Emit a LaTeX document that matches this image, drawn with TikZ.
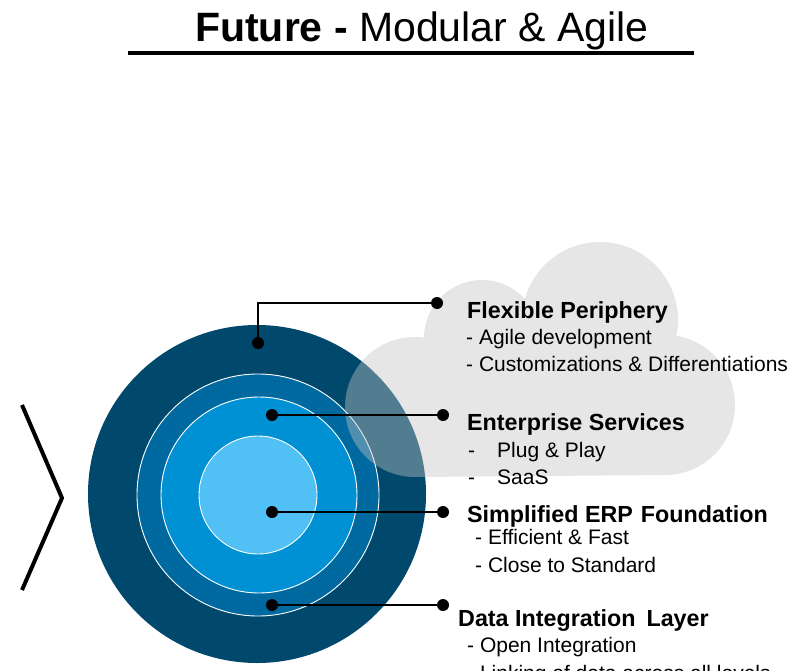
\documentclass[tikz,border=0pt]{standalone}
\usepackage{fontspec}
\setmainfont{Liberation Sans}
\definecolor{navy}{HTML}{00486C}
\definecolor{ringtwo}{HTML}{006AA0}
\definecolor{ringthree}{HTML}{0090D4}
\definecolor{core}{HTML}{50C0F5}
\definecolor{cloudgray}{HTML}{C4C4C4}
\begin{document}
\begin{tikzpicture}[x=1pt,y=-1pt,
  dotnode/.style={circle,fill=black,inner sep=0pt,minimum size=12pt},
  conn/.style={line width=2.2pt,black},
  head/.style={anchor=base west,inner sep=0pt,font=\fontsize{23.3}{27}\selectfont\bfseries},
  body/.style={anchor=base west,inner sep=0pt,font=\fontsize{21}{25}\selectfont},
  ring/.style={draw=white,line width=0.9pt}]
\useasboundingbox (0,0) rectangle (794,671);
\fill[white] (0,0) rectangle (794,671);
% title
\node[anchor=base west,inner sep=0pt,font=\fontsize{41}{48}\selectfont] (title) at (195,42) {\textbf{Future -} Modular \& Agile};
\draw[line width=4pt] (128,53) -- (694,53);
% chevron
\draw[line width=4pt,line join=miter] (22,405) -- (62,498) -- (22,590);
% rings
\fill[navy] (257,494) circle[radius=169pt];
\filldraw[ring,fill=ringtwo] (258,495) circle[radius=121pt];
\filldraw[ring,fill=ringthree] (259,495) circle[radius=98pt];
\filldraw[ring,fill=core] (258,495) circle[radius=59pt];
% cloud
\fill[cloudgray,fill opacity=0.42]
  (600,320) circle[radius=78pt]
  (482,338) circle[radius=58pt]
  (415,407) circle[radius=70pt]
  (665,405) circle[radius=70pt]
  (415,477) -- (665,475) -- (690,350) -- (430,340) -- cycle;
% dots
\node[dotnode] (d1) at (258,343) {};
\coordinate (c1) at (258,303);
\node[dotnode] (t1) at (437,303) {};
\node[dotnode] (d2) at (272,415) {};
\node[dotnode] (t2) at (443,415) {};
\node[dotnode] (d3) at (272,512) {};
\node[dotnode] (t3) at (443,512) {};
\node[dotnode] (d4) at (272,605) {};
\node[dotnode] (t4) at (443,605) {};
\draw[conn] (d1.center) -- (c1) -- (t1.center);
\draw[conn] (d2.center) -- (t2.center);
\draw[conn] (d3.center) -- (t3.center);
\draw[conn] (d4.center) -- (t4.center);
% texts
\node[head] (h1) at (467,318) {Flexible Periphery};
\node[body] (b11) at (466,344) {- Agile development};
\node[body] (b12) at (466,371) {- Customizations \& Differentiations};
\node[head] (h2) at (467,430) {Enterprise Services};
\node[body] (b21) at (468,457) {\makebox[29pt][l]{-}Plug \& Play};
\node[body] (b22) at (468,484) {\makebox[29pt][l]{-}SaaS};
\node[head] (h3) at (467,522) {Simplified ERP\hspace{8pt}Foundation};
\node[body] (b31) at (475,544) {- Efficient \& Fast};
\node[body] (b32) at (475,572) {- Close to Standard};
\node[head] (h4) at (458,626) {Data Integration\hspace{11pt}Layer};
\node[body] (b41) at (467,652) {- Open Integration};
\node[body] (b42) at (467,680) {- Linking of data across all levels};
\end{tikzpicture}
\end{document}
